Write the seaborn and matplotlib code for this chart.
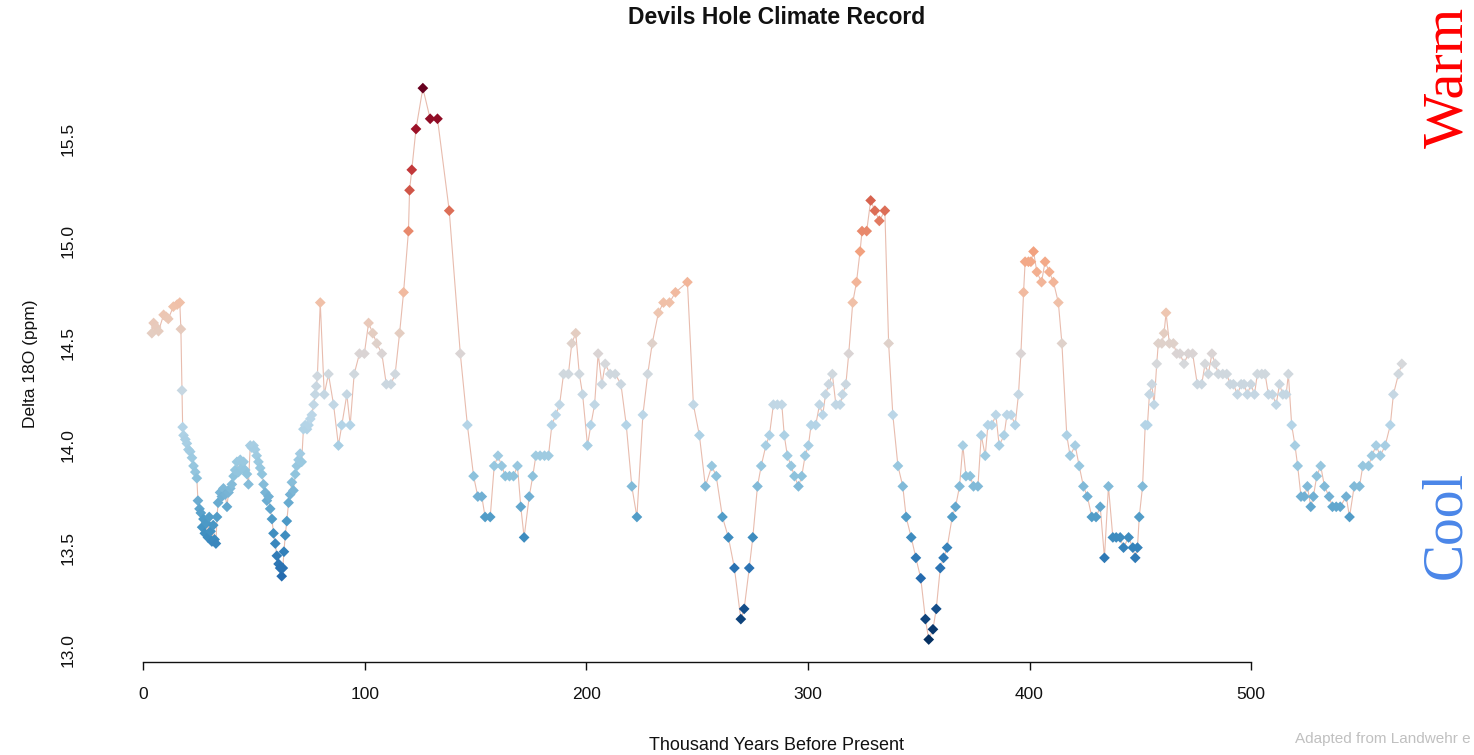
import numpy as np
import pandas as pd
import matplotlib
matplotlib.use('Agg')
import matplotlib.pyplot as plt
import seaborn as sns
from matplotlib.colors import LinearSegmentedColormap

# 数据：年龄（千年前）与 δ18O
ages = [3.9, 4.7, 5.8, 6.9, 9.2, 10.4, 11.3, 13.6, 15.3, 16.5, 17.0, 17.5, 17.8, 18.2, 19.0,
        19.7, 20.4, 21.2, 22.0, 22.7, 23.5, 24.2, 24.7, 25.4, 26.0, 26.6, 27.2, 27.8, 28.5,
        29.2, 29.8, 30.4, 31.0, 31.6, 32.2, 32.8, 33.3, 33.8, 34.7, 35.5, 36.2, 37.0, 37.8,
        38.5, 39.3, 40.0, 40.8, 41.5, 42.3, 43.0, 43.8, 44.5, 45.3, 46.0, 46.8, 47.5, 48.3,
        49.0, 49.8, 50.5, 51.2, 52.0, 52.8, 53.6, 54.3, 55.1, 55.8, 56.6, 57.3, 58.1, 58.8,
        59.6, 60.3, 61.1, 61.8, 62.5, 63.0, 63.5, 64.1, 64.8, 65.6, 66.3, 67.1, 67.8, 68.6,
        69.3, 70.1, 70.8, 71.5, 72.3, 73.1, 73.9, 74.6, 75.4, 76.1, 76.9, 77.6, 78.1, 78.6,
        79.9, 81.7, 83.6, 85.9, 88.1, 89.6, 91.9, 93.4, 95.2, 97.6, 99.8, 101.7, 103.6, 105.4,
        107.7, 109.7, 111.8, 113.7, 115.7, 117.5, 119.7, 120.2, 121.2, 123.1, 126.2, 129.5,
        132.8, 138.1, 143.1, 146.3, 149.1, 151.0, 152.8, 154.3, 156.6, 158.4, 160.1, 161.8,
        163.4, 165.3, 167.1, 168.9, 170.4, 171.9, 174.2, 175.8, 177.2, 179.1, 181.1, 182.9,
        184.4, 186.2, 187.9, 189.7, 191.9, 193.4, 195.2, 196.8, 198.3, 200.5, 202.0, 203.7,
        205.3, 207.0, 208.5, 210.7, 213.0, 215.6, 218.0, 220.5, 222.8, 225.5, 227.7, 229.7,
        232.5, 234.8, 237.5, 240.2, 245.6, 248.3, 251.0, 253.7, 256.6, 258.6, 261.4, 264.1,
        266.8, 269.7, 271.2, 273.5, 275.1, 277.2, 278.9, 281.0, 282.6, 284.4, 286.2, 288.2,
        289.3, 290.7, 292.4, 293.9, 295.7, 297.2, 298.7, 300.2, 301.4, 303.5, 305.2, 306.7,
        307.9, 309.4, 311.0, 312.6, 314.5, 315.6, 317.1, 318.4, 320.2, 321.9, 323.5, 324.4,
        326.5, 328.3, 330.2, 332.2, 334.7, 336.4, 338.3, 340.6, 342.8, 344.3, 346.6, 348.7,
        350.9, 353.0, 354.5, 356.4, 357.9, 359.7, 361.2, 362.8, 365.1, 366.6, 368.4, 369.9,
        371.3, 373.2, 374.7, 376.7, 378.2, 380.0, 381.2, 383.0, 384.8, 386.3, 388.5, 389.8,
        391.7, 393.5, 395.0, 396.1, 397.3, 398.0, 399.5, 400.6, 401.8, 403.3, 405.4, 407.0,
        408.9, 410.8, 413.0, 414.6, 416.8, 418.3, 420.6, 422.4, 424.3, 426.1, 428.1, 430.0,
        431.9, 433.8, 435.6, 437.6, 439.1, 440.9, 442.4, 444.7, 446.6, 447.7, 448.7, 449.5,
        451.0, 452.2, 453.2, 454.1, 455.2, 456.2, 457.4, 458.1, 459.7, 460.7, 461.6, 463.1,
        464.9, 466.4, 467.9, 469.7, 471.6, 473.6, 475.7, 477.7, 479.2, 480.7, 482.3, 483.8,
        485.2, 487.2, 489.0, 490.5, 492.0, 493.8, 495.5, 496.8, 498.3, 499.9, 501.5, 502.8,
        504.8, 506.3, 507.8, 509.6, 511.3, 512.8, 514.3, 515.8, 516.8, 518.3, 519.8, 521.0,
        522.5, 524.0, 525.4, 526.9, 528.1, 529.6, 531.4, 533.1, 535.2, 536.7, 538.4, 540.2,
        542.9, 544.4, 546.5, 548.9, 550.4, 553.0, 554.5, 556.4, 558.3, 560.5, 562.8, 564.2,
        566.5, 568.0]

d18o = [14.55, 14.60, 14.58, 14.56, 14.64, 14.63, 14.62, 14.68, 14.69, 14.70, 14.57, 14.27, 14.09, 14.05, 14.03,
        14.01, 13.98, 13.97, 13.94, 13.90, 13.87, 13.84, 13.73, 13.69, 13.67, 13.60, 13.64, 13.57, 13.62,
        13.55, 13.65, 13.58, 13.53, 13.61, 13.54, 13.52, 13.65, 13.72, 13.77, 13.75, 13.79, 13.76, 13.70,
        13.77, 13.79, 13.81, 13.85, 13.88, 13.92, 13.87, 13.93, 13.89, 13.92, 13.88, 13.86, 13.81, 14.00,
        13.99, 14.00, 13.98, 13.95, 13.92, 13.89, 13.86, 13.81, 13.77, 13.73, 13.75, 13.69, 13.64, 13.57,
        13.52, 13.46, 13.42, 13.40, 13.36, 13.40, 13.48, 13.56, 13.63, 13.72, 13.76, 13.82, 13.78, 13.86,
        13.90, 13.93, 13.96, 13.92, 14.08, 14.10, 14.08, 14.10, 14.13, 14.15, 14.20, 14.25, 14.29, 14.34,
        14.70, 14.25, 14.35, 14.20, 14.00, 14.10, 14.25, 14.10, 14.35, 14.45, 14.45, 14.60, 14.55, 14.50,
        14.45, 14.30, 14.30, 14.35, 14.55, 14.75, 15.05, 15.25, 15.35, 15.55, 15.75, 15.60,
        15.60, 15.15, 14.45, 14.10, 13.85, 13.75, 13.75, 13.65, 13.65, 13.90, 13.95, 13.90,
        13.85, 13.85, 13.85, 13.90, 13.70, 13.55, 13.75, 13.85, 13.95, 13.95, 13.95, 13.95,
        14.10, 14.15, 14.20, 14.35, 14.35, 14.50, 14.55, 14.35, 14.25, 14.00, 14.10, 14.20,
        14.45, 14.30, 14.40, 14.35, 14.35, 14.30, 14.10, 13.80, 13.65, 14.15, 14.35, 14.50,
        14.65, 14.70, 14.70, 14.75, 14.80, 14.20, 14.05, 13.80, 13.90, 13.85, 13.65, 13.55,
        13.40, 13.15, 13.20, 13.40, 13.55, 13.80, 13.90, 14.00, 14.05, 14.20, 14.20, 14.20,
        14.05, 13.95, 13.90, 13.85, 13.80, 13.85, 13.95, 14.00, 14.10, 14.10, 14.20, 14.15,
        14.25, 14.30, 14.35, 14.20, 14.20, 14.25, 14.30, 14.45, 14.70, 14.80, 14.95, 15.05,
        15.05, 15.20, 15.15, 15.10, 15.15, 14.50, 14.15, 13.90, 13.80, 13.65, 13.55, 13.45,
        13.35, 13.15, 13.05, 13.10, 13.20, 13.40, 13.45, 13.50, 13.65, 13.70, 13.80, 14.00,
        13.85, 13.85, 13.80, 13.80, 14.05, 13.95, 14.10, 14.10, 14.15, 14.00, 14.05, 14.15,
        14.15, 14.10, 14.25, 14.45, 14.75, 14.90, 14.90, 14.90, 14.95, 14.85, 14.80, 14.90,
        14.85, 14.80, 14.70, 14.50, 14.05, 13.95, 14.00, 13.90, 13.80, 13.75, 13.65, 13.65,
        13.70, 13.45, 13.80, 13.55, 13.55, 13.55, 13.50, 13.55, 13.50, 13.45, 13.50, 13.65,
        13.80, 14.10, 14.10, 14.25, 14.30, 14.20, 14.40, 14.50, 14.50, 14.55, 14.65, 14.50,
        14.50, 14.45, 14.45, 14.40, 14.45, 14.45, 14.30, 14.30, 14.40, 14.35, 14.45, 14.40,
        14.35, 14.35, 14.35, 14.30, 14.30, 14.25, 14.30, 14.30, 14.25, 14.30, 14.25, 14.35,
        14.35, 14.35, 14.25, 14.25, 14.20, 14.30, 14.25, 14.25, 14.35, 14.10, 14.00, 13.90,
        13.75, 13.75, 13.80, 13.70, 13.75, 13.85, 13.90, 13.80, 13.75, 13.70, 13.70, 13.70,
        13.75, 13.65, 13.80, 13.80, 13.90, 13.90, 13.95, 14.00, 13.95, 14.00, 14.10, 14.25,
        14.35, 14.40]

x_ticks = [0, 100, 200, 300, 400, 500]
y_ticks = [13.0, 13.5, 14.0, 14.5, 15.0, 15.5]

df = pd.DataFrame({'age': ages, 'd18o': d18o})

# 蓝-白-红配色（中间偏浅灰）
rdbu = ['#053061', '#2166ac', '#4393c3', '#92c5de', '#b9d6e8', '#d5d8dc',
        '#f0c4ad', '#f4a582', '#d6604d', '#b2182b', '#67001f']
cmap = LinearSegmentedColormap.from_list('rdbu_grey', rdbu)

sns.set_style('white')
plt.rcParams['font.family'] = ['Liberation Sans', 'DejaVu Sans']

fig = plt.figure(figsize=(14.74, 7.55), dpi=100)
ax = fig.add_axes([0.0692, 0.1232, 0.9158, 0.7898])

sns.lineplot(data=df, x='age', y='d18o', sort=False, color='#e8bcae', linewidth=0.8, ax=ax)
sns.scatterplot(data=df, x='age', y='d18o', hue='d18o', palette=cmap,
                hue_norm=(min(d18o), max(d18o)), marker='D', s=30, linewidth=0,
                legend=False, ax=ax, zorder=3)

ax.set_xlim(-18.6, 590.6)
ax.set_ylim(12.94, 15.86)
ax.set_xticks(x_ticks)
ax.set_yticks(y_ticks)
ax.set_xticklabels([str(t) for t in x_ticks], fontsize=12.5)
ax.set_yticklabels([f'{t:.1f}' for t in y_ticks], fontsize=12.5, rotation=90, va='center')

for s in ['top', 'right', 'left']:
    ax.spines[s].set_visible(False)
ax.spines['bottom'].set_bounds(0, 500)
ax.spines['bottom'].set_linewidth(1.0)
ax.spines['bottom'].set_color('#111111')
ax.tick_params(axis='x', direction='out', length=6, width=1.0, pad=12, colors='#111111', bottom=True)
ax.tick_params(axis='y', length=0, pad=19, colors='#111111')

ax.set_xlabel('Thousand Years Before Present', fontsize=13, labelpad=25, color='#111111')
ax.set_ylabel('Delta 18O (ppm)', fontsize=12.5, labelpad=16, color='#111111')
ax.set_title('Devils Hole Climate Record', fontsize=16.5, fontweight='bold', pad=30, color='#111111')

# 右侧文字标注
fig.text(0.9825, 0.897, 'Warm', color='#ff0000', fontsize=42, rotation=90,
         ha='center', va='center', family=['Liberation Serif', 'DejaVu Serif'])
fig.text(0.981, 0.304, 'Cool', color='#4a86e8', fontsize=40, rotation=90,
         ha='center', va='center', family=['Liberation Serif', 'DejaVu Serif'])
fig.text(0.998, 0.021, 'Adapted from Landwehr e', color='#c0c0c0', fontsize=11,
         ha='right', va='center')

fig.savefig('out.png', dpi=100)
